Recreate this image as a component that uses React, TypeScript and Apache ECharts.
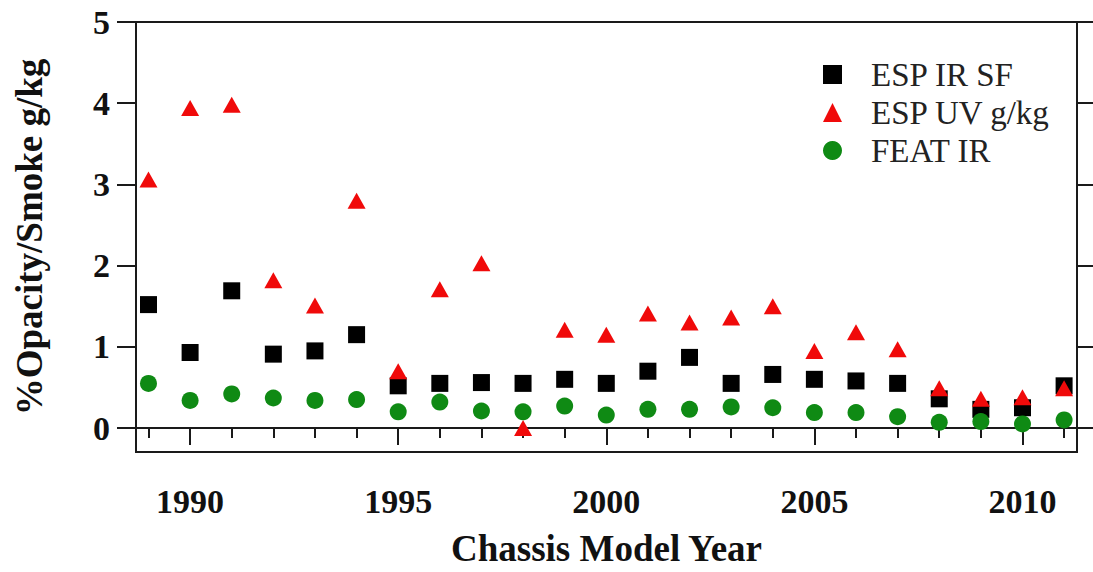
import React, { useEffect, useRef } from "react";
import * as echarts from "echarts";

// Chassis model years on the x axis
const years = [
  1989, 1990, 1991, 1992, 1993, 1994, 1995, 1996, 1997, 1998, 1999, 2000,
  2001, 2002, 2003, 2004, 2005, 2006, 2007, 2008, 2009, 2010, 2011,
];

// ESP IR smoke factor (% opacity)
const espIrSf = [
  1.52, 0.93, 1.69, 0.91, 0.95, 1.15, 0.52, 0.55, 0.56, 0.55, 0.6, 0.55,
  0.7, 0.87, 0.55, 0.66, 0.6, 0.58, 0.55, 0.36, 0.23, 0.25, 0.52,
];

// ESP UV smoke (g/kg)
const espUvGkg = [
  3.06, 3.94, 3.98, 1.82, 1.51, 2.8, 0.7, 1.71, 2.03, 0.0, 1.21, 1.15,
  1.41, 1.3, 1.36, 1.5, 0.95, 1.18, 0.97, 0.49, 0.36, 0.38, 0.49,
];

// FEAT IR (% opacity)
const featIr = [
  0.55, 0.34, 0.42, 0.37, 0.34, 0.35, 0.2, 0.32, 0.21, 0.2, 0.27, 0.16,
  0.23, 0.23, 0.26, 0.25, 0.19, 0.19, 0.14, 0.07, 0.08, 0.05, 0.1,
];

const yTicks = [0, 1, 2, 3, 4, 5];
const yearLabels = [1990, 1995, 2000, 2005, 2010];

const FONT = "'Liberation Serif', 'Times New Roman', serif";
const AXIS_COLOR = "#1a1a1a";

export default function App() {
  const ref = useRef<HTMLDivElement>(null);

  useEffect(() => {
    if (!ref.current) return;
    const chart = echarts.init(ref.current, undefined, { renderer: "svg" });

    const pair = (vals: number[]) => years.map((y, i) => [y, vals[i]]);
    const lineStyle = { color: AXIS_COLOR, width: 2 };
    const xMin = 1988.7;
    const xMax = 2011.31;
    const yMin = -0.295;
    const yMax = 5;

    chart.setOption({
      animation: false,
      backgroundColor: "#ffffff",
      grid: {
        left: 136,
        right: 16,
        top: 22,
        bottom: 119,
        show: true,
        borderColor: AXIS_COLOR,
        borderWidth: 2,
        backgroundColor: "transparent",
      },
      legend: {
        orient: "vertical",
        left: 818,
        top: 53,
        itemWidth: 19,
        itemHeight: 19,
        itemGap: 5,
        selectedMode: false,
        textStyle: {
          fontFamily: FONT,
          fontSize: 33,
          color: "#222",
          padding: [0, 0, 0, 24],
        },
        data: ["ESP IR SF", "ESP UV g/kg", "FEAT IR"],
      },
      xAxis: [
        {
          type: "value",
          position: "bottom",
          min: xMin,
          max: xMax,
          axisLine: { show: true, lineStyle },
          axisTick: {
            show: true,
            customValues: years,
            length: 10,
            lineStyle,
          },
          axisLabel: { show: false },
          splitLine: { show: false },
        },
        {
          type: "value",
          position: "bottom",
          min: xMin,
          max: xMax,
          axisLine: { show: false },
          axisTick: {
            show: true,
            customValues: yearLabels,
            length: 17,
            lineStyle,
          },
          axisLabel: {
            show: true,
            customValues: yearLabels,
            formatter: (v: number) => String(v),
            margin: 32,
            fontFamily: FONT,
            fontWeight: "bold",
            fontSize: 34,
            color: "#111",
          },
          splitLine: { show: false },
          name: "Chassis Model Year",
          nameLocation: "middle",
          nameGap: 78,
          nameTextStyle: {
            fontFamily: FONT,
            fontWeight: "bold",
            fontSize: 37,
            color: "#111",
          },
        },
      ],
      yAxis: [
        {
          type: "value",
          position: "left",
          min: yMin,
          max: yMax,
          axisLine: { show: true, lineStyle },
          axisTick: {
            show: true,
            customValues: yTicks,
            length: 19,
            lineStyle,
          },
          axisLabel: {
            show: true,
            customValues: yTicks,
            formatter: (v: number) => String(v),
            margin: 26,
            fontFamily: FONT,
            fontWeight: "bold",
            fontSize: 34,
            color: "#111",
          },
          splitLine: { show: false },
          name: "%Opacity/Smoke g/kg",
          nameLocation: "middle",
          nameGap: 88,
          nameTextStyle: {
            fontFamily: FONT,
            fontWeight: "bold",
            fontSize: 37,
            color: "#111",
          },
        },
        {
          type: "value",
          position: "right",
          min: yMin,
          max: yMax,
          axisLine: { show: true, lineStyle },
          axisTick: {
            show: true,
            customValues: yTicks,
            length: 16,
            lineStyle,
          },
          axisLabel: { show: false },
          splitLine: { show: false },
        },
      ],
      series: [
        {
          name: "ESP IR SF",
          type: "scatter",
          symbol: "rect",
          symbolSize: 17,
          itemStyle: { color: "#000000", opacity: 1 },
          data: pair(espIrSf),
          z: 2,
        },
        {
          name: "ESP UV g/kg",
          type: "scatter",
          symbol: "triangle",
          symbolSize: [18, 16],
          itemStyle: { color: "#f00a0a", opacity: 1 },
          data: pair(espUvGkg),
          z: 3,
        },
        {
          name: "FEAT IR",
          type: "scatter",
          symbol: "circle",
          symbolSize: 17,
          itemStyle: { color: "#0f8a14", opacity: 1 },
          data: pair(featIr),
          z: 4,
        },
      ],
    });

    return () => chart.dispose();
  }, []);

  return (
    <div
      ref={ref}
      style={{
        position: "fixed",
        left: 0,
        top: 0,
        width: 1093,
        height: 572,
        background: "#fff",
      }}
    />
  );
}
